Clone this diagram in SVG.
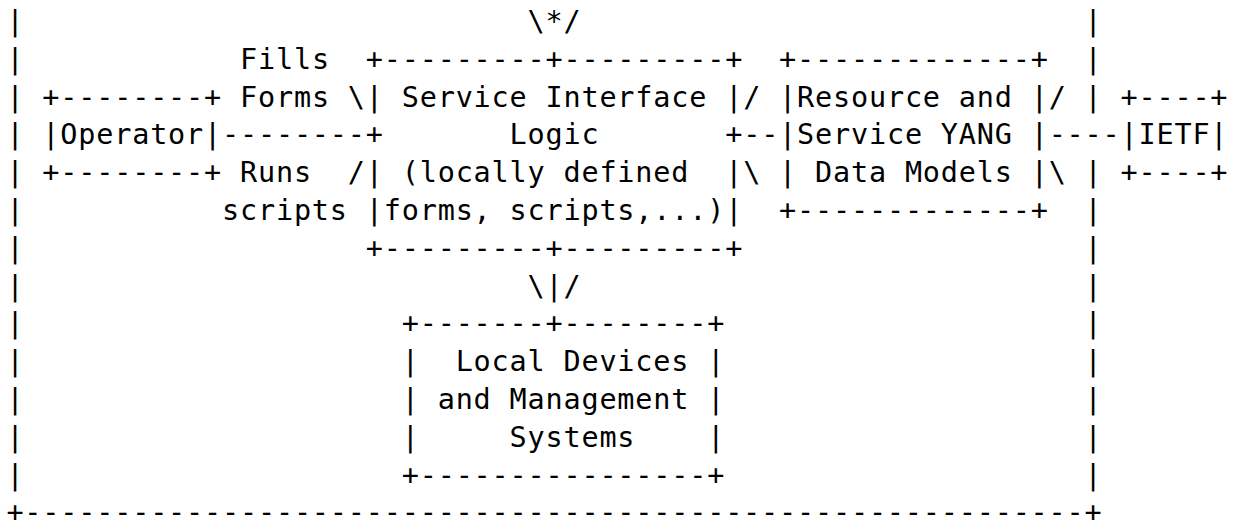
<svg xmlns="http://www.w3.org/2000/svg" width="1242" height="521" viewBox="0 0 1242 521" xml:space="preserve">
<style>
text { font-family: "DejaVu Sans Mono", "Liberation Mono", monospace; font-size: 28.5px; letter-spacing: 0.81px; fill: #000; white-space: pre; }
</style>
<rect x="0" y="0" width="1242" height="521" fill="#fff"/>
<g transform="translate(0.4,-1.6)">
<g id="outer-frame">
<text><tspan x="6" y="32.7">|</tspan><tspan x="6" y="70.5">|</tspan><tspan x="6" y="108.3">|</tspan><tspan x="6" y="146.1">|</tspan><tspan x="6" y="183.9">|</tspan><tspan x="6" y="221.7">|</tspan><tspan x="6" y="259.5">|</tspan><tspan x="6" y="297.3">|</tspan><tspan x="6" y="335.1">|</tspan><tspan x="6" y="372.9">|</tspan><tspan x="6" y="410.7">|</tspan><tspan x="6" y="448.5">|</tspan><tspan x="6" y="486.3">|</tspan></text>
<text><tspan x="1084.2" y="32.7">|</tspan><tspan x="1084.2" y="70.5">|</tspan><tspan x="1084.2" y="108.3">|</tspan><tspan x="1084.2" y="183.9">|</tspan><tspan x="1084.2" y="221.7">|</tspan><tspan x="1084.2" y="259.5">|</tspan><tspan x="1084.2" y="297.3">|</tspan><tspan x="1084.2" y="335.1">|</tspan><tspan x="1084.2" y="372.9">|</tspan><tspan x="1084.2" y="410.7">|</tspan><tspan x="1084.2" y="448.5">|</tspan><tspan x="1084.2" y="486.3">|</tspan></text>
<text x="6" y="524.1">+-----------------------------------------------------------+</text>
</g>
<g id="operator">
<text x="41.94" y="108.3">+--------+</text>
<text x="41.94" y="146.1">|Operator|</text>
<text x="41.94" y="183.9">+--------+</text>
</g>
<g id="service-interface-logic">
<text x="365.4" y="70.5">+---------+---------+</text>
<text x="365.4" y="108.3">| Service Interface |</text>
<text x="365.4" y="146.1">+       Logic       +</text>
<text x="365.4" y="183.9">| (locally defined  |</text>
<text x="365.4" y="221.7">|forms, scripts,...)|</text>
<text x="365.4" y="259.5">+---------+---------+</text>
</g>
<g id="resource-service-yang">
<text x="778.71" y="70.5">+-------------+</text>
<text x="778.71" y="108.3">|Resource and |</text>
<text x="778.71" y="146.1">|Service YANG |</text>
<text x="778.71" y="183.9">| Data Models |</text>
<text x="778.71" y="221.7">+-------------+</text>
</g>
<g id="ietf">
<text x="1120.14" y="108.3">+----+</text>
<text x="1120.14" y="146.1">|IETF|</text>
<text x="1120.14" y="183.9">+----+</text>
</g>
<g id="local-devices">
<text x="401.34" y="335.1">+-------+--------+</text>
<text x="401.34" y="372.9">|  Local Devices |</text>
<text x="401.34" y="410.7">| and Management |</text>
<text x="401.34" y="448.5">|     Systems    |</text>
<text x="401.34" y="486.3">+----------------+</text>
</g>
<g id="connectors">
<text x="527.13" y="32.7">\*/</text>
<text x="239.61" y="70.5">Fills</text>
<text x="239.61" y="108.3">Forms \</text>
<text x="221.64" y="146.1">--------</text>
<text x="239.61" y="183.9">Runs  /</text>
<text x="221.64" y="221.7">scripts</text>
<text x="742.77" y="108.3">/</text>
<text x="742.77" y="146.1">--</text>
<text x="742.77" y="183.9">\</text>
<text x="1048.26" y="108.3">/</text>
<text x="1048.26" y="146.1">----</text>
<text x="1048.26" y="183.9">\</text>
<text x="527.13" y="297.3">\|/</text>
</g>
</g>
</svg>
